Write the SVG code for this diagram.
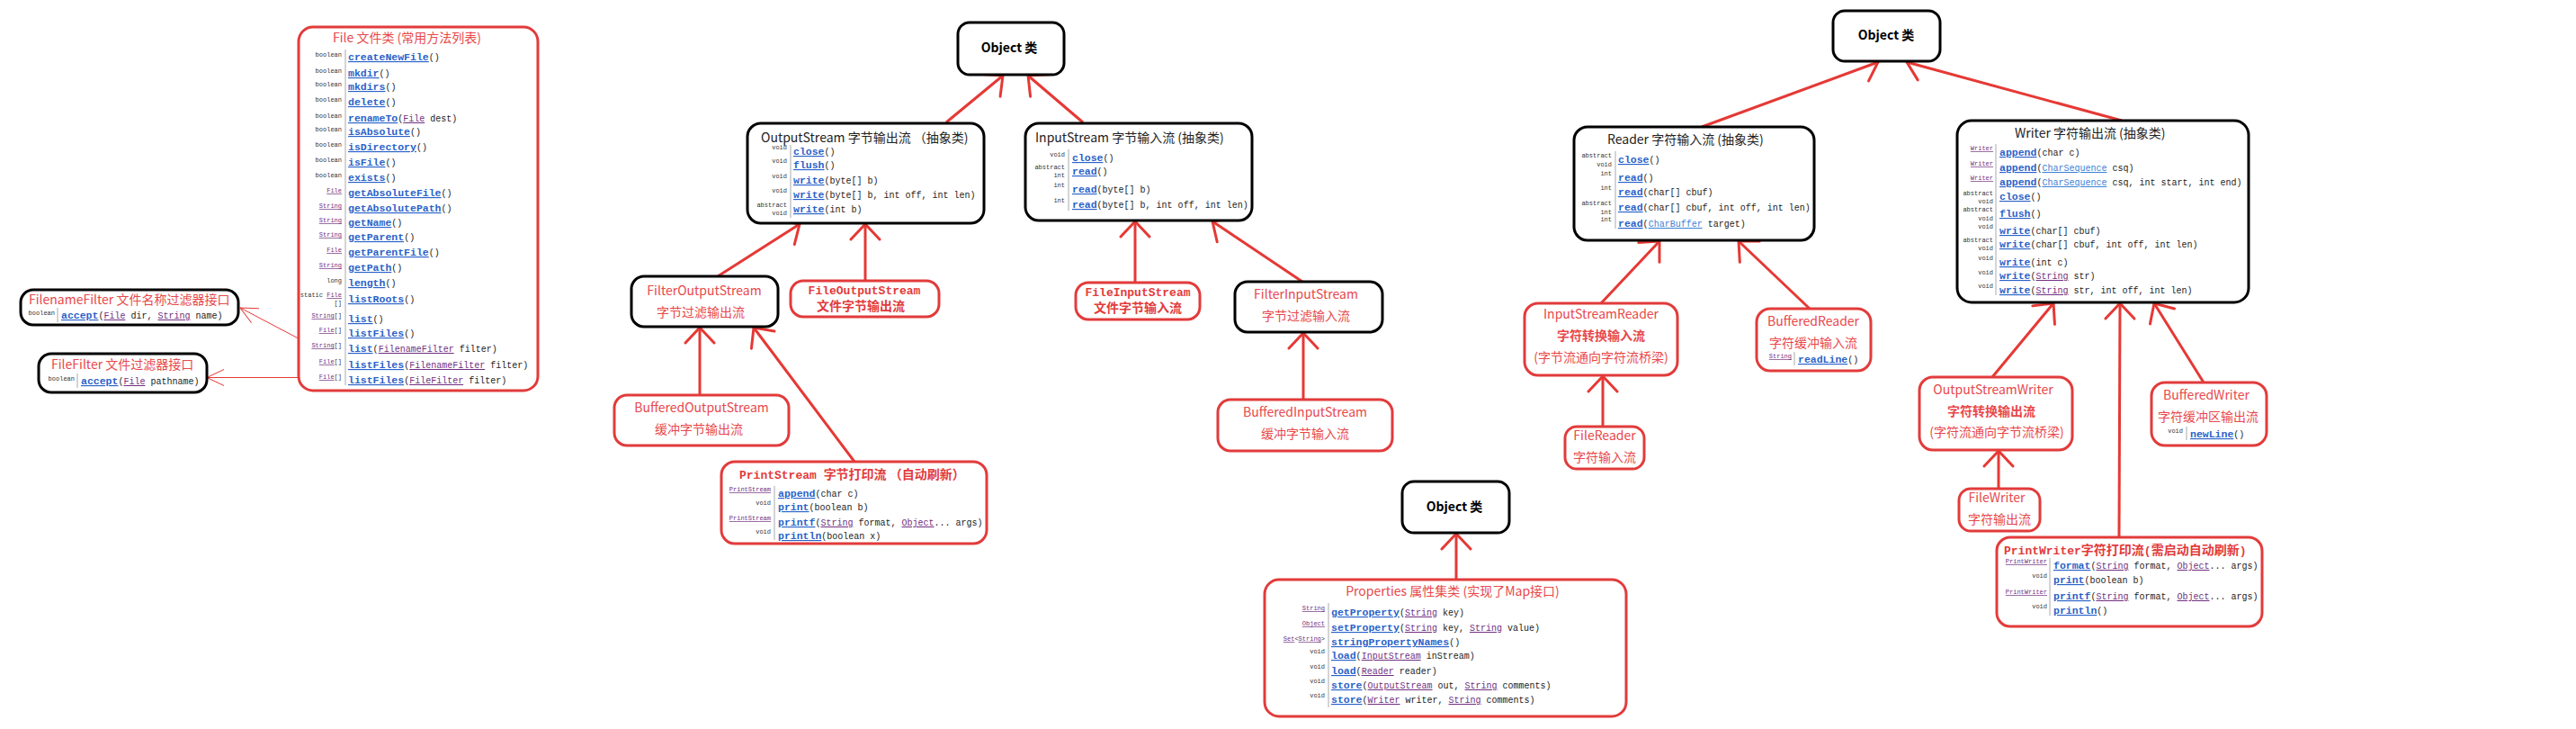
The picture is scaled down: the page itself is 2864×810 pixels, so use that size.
<svg xmlns="http://www.w3.org/2000/svg" width="2864" height="810" viewBox="0 0 2864 810">
<style>
.bk{fill:#fff;stroke:#000;stroke-width:3}
.rd{fill:#fff;stroke:#e23b3b;stroke-width:3}
.ob{font-family:"Noto Sans CJK SC","Noto Sans",sans-serif;font-size:14px;font-weight:bold;fill:#000;text-anchor:middle}
.ti{font-family:"Noto Sans CJK SC","Noto Sans",sans-serif;font-size:14px;fill:#222}
.rt{font-family:"Noto Sans CJK SC","Noto Sans",sans-serif;font-size:14px;fill:#e8484a}
.mc{text-anchor:middle}
.bd{font-weight:bold}
.rm{font-family:"Liberation Mono",monospace;font-size:13px;font-weight:bold;fill:#e23b3b}
.rc{font-family:"Noto Sans CJK SC",sans-serif;font-size:14px;font-weight:bold;fill:#e23b3b}
.rw{font-family:"Liberation Mono",monospace}
.m{font-size:11.5px;font-weight:bold;fill:#2a62c9;text-decoration:underline}
.p{font-size:10px;fill:#222}
.ty{font-size:10px;fill:#70307f;text-decoration:underline}
.lb{font-size:10px;fill:#3b82d6;text-decoration:underline}
.rv{font-family:"Liberation Mono",monospace;font-size:7px;fill:#333;text-anchor:end}
.rl{fill:#70307f;text-decoration:underline}
.sep{stroke:#aaa;stroke-width:1}
.ln{stroke:#e53935;stroke-width:3;fill:none;marker-end:url(#ah)}
.tl{stroke:#e53935;stroke-width:1;fill:none;marker-end:url(#at)}
</style>
<defs>
<marker id="ah" markerUnits="userSpaceOnUse" markerWidth="24" markerHeight="36" viewBox="-22 -18 24 36" refX="0" refY="0" orient="auto"><path d="M-17,-16 L0,0 L-17,16" fill="none" stroke="#e53935" stroke-width="3" stroke-linecap="round"/></marker>
<marker id="at" markerUnits="userSpaceOnUse" markerWidth="24" markerHeight="24" viewBox="-22 -12 24 24" refX="0" refY="0" orient="auto"><path d="M-19,-9 L0,0 L-19,9" fill="none" stroke="#e53935" stroke-width="1"/></marker>
</defs>
<rect width="2864" height="810" fill="#fff"/>

<g id="connectors">
<line class="ln" x1="1052" y1="136" x2="1115" y2="84"/>
<line class="ln" x1="1204" y1="136" x2="1143" y2="84"/>
<line class="ln" x1="798" y1="307" x2="889" y2="249"/>
<line class="ln" x1="962" y1="312" x2="962" y2="249"/>
<line class="ln" x1="778" y1="439" x2="778" y2="364"/>
<line class="ln" x1="950" y1="513" x2="838" y2="364"/>
<line class="ln" x1="1262" y1="314" x2="1262" y2="246"/>
<line class="ln" x1="1448" y1="313" x2="1348" y2="246"/>
<line class="ln" x1="1449" y1="444" x2="1449" y2="370"/>
<line class="ln" x1="1619" y1="644" x2="1619" y2="593"/>
<line class="ln" x1="1892" y1="141" x2="2088" y2="69"/>
<line class="ln" x1="2359" y1="134" x2="2120" y2="69"/>
<line class="ln" x1="1780" y1="337" x2="1845" y2="268"/>
<line class="ln" x1="2012" y1="343" x2="1933" y2="268"/>
<line class="ln" x1="1782" y1="474" x2="1782" y2="418"/>
<line class="ln" x1="2215" y1="419" x2="2283" y2="337"/>
<line class="ln" x1="2356" y1="597" x2="2357" y2="337"/>
<line class="ln" x1="2450" y1="425" x2="2395" y2="337"/>
<line class="ln" x1="2222" y1="543" x2="2222" y2="501"/>
<line class="tl" x1="345" y1="383" x2="267" y2="342"/>
<line class="tl" x1="352" y1="419.5" x2="230" y2="419.5"/>
</g>

<g id="file">
<rect class="rd" x="332" y="30" width="266" height="404" rx="16"/>
<text class="rt" x="370" y="47">File 文件类 (常用方法列表)</text>
<line class="sep" x1="384" y1="55" x2="384" y2="428"/>
<text class="rv" x="380" y="63">boolean</text><text class="rw" x="387" y="67"><tspan class="m">createNewFile</tspan><tspan class="p">()</tspan></text>
<text class="rv" x="380" y="81">boolean</text><text class="rw" x="387" y="85"><tspan class="m">mkdir</tspan><tspan class="p">()</tspan></text>
<text class="rv" x="380" y="96">boolean</text><text class="rw" x="387" y="100"><tspan class="m">mkdirs</tspan><tspan class="p">()</tspan></text>
<text class="rv" x="380" y="113">boolean</text><text class="rw" x="387" y="117"><tspan class="m">delete</tspan><tspan class="p">()</tspan></text>
<text class="rv" x="380" y="131">boolean</text><text class="rw" x="387" y="135"><tspan class="m">renameTo</tspan><tspan class="p">(</tspan><tspan class="ty">File</tspan><tspan class="p"> dest)</tspan></text>
<text class="rv" x="380" y="146">boolean</text><text class="rw" x="387" y="150"><tspan class="m">isAbsolute</tspan><tspan class="p">()</tspan></text>
<text class="rv" x="380" y="163">boolean</text><text class="rw" x="387" y="167"><tspan class="m">isDirectory</tspan><tspan class="p">()</tspan></text>
<text class="rv" x="380" y="180">boolean</text><text class="rw" x="387" y="184"><tspan class="m">isFile</tspan><tspan class="p">()</tspan></text>
<text class="rv" x="380" y="197">boolean</text><text class="rw" x="387" y="201"><tspan class="m">exists</tspan><tspan class="p">()</tspan></text>
<text class="rv" x="380" y="214"><tspan class="rl">File</tspan></text><text class="rw" x="387" y="218"><tspan class="m">getAbsoluteFile</tspan><tspan class="p">()</tspan></text>
<text class="rv" x="380" y="231"><tspan class="rl">String</tspan></text><text class="rw" x="387" y="235"><tspan class="m">getAbsolutePath</tspan><tspan class="p">()</tspan></text>
<text class="rv" x="380" y="247"><tspan class="rl">String</tspan></text><text class="rw" x="387" y="251"><tspan class="m">getName</tspan><tspan class="p">()</tspan></text>
<text class="rv" x="380" y="263"><tspan class="rl">String</tspan></text><text class="rw" x="387" y="267"><tspan class="m">getParent</tspan><tspan class="p">()</tspan></text>
<text class="rv" x="380" y="280"><tspan class="rl">File</tspan></text><text class="rw" x="387" y="284"><tspan class="m">getParentFile</tspan><tspan class="p">()</tspan></text>
<text class="rv" x="380" y="297"><tspan class="rl">String</tspan></text><text class="rw" x="387" y="301"><tspan class="m">getPath</tspan><tspan class="p">()</tspan></text>
<text class="rv" x="380" y="314">long</text><text class="rw" x="387" y="318"><tspan class="m">length</tspan><tspan class="p">()</tspan></text>
<text class="rv" x="380" y="330">static <tspan class="rl">File</tspan></text><text class="rv" x="380" y="339">[]</text><text class="rw" x="387" y="336"><tspan class="m">listRoots</tspan><tspan class="p">()</tspan></text>
<text class="rv" x="380" y="353"><tspan class="rl">String</tspan>[]</text><text class="rw" x="387" y="358"><tspan class="m">list</tspan><tspan class="p">()</tspan></text>
<text class="rv" x="380" y="369"><tspan class="rl">File</tspan>[]</text><text class="rw" x="387" y="374"><tspan class="m">listFiles</tspan><tspan class="p">()</tspan></text>
<text class="rv" x="380" y="386"><tspan class="rl">String</tspan>[]</text><text class="rw" x="387" y="391"><tspan class="m">list</tspan><tspan class="p">(</tspan><tspan class="ty">FilenameFilter</tspan><tspan class="p"> filter)</tspan></text>
<text class="rv" x="380" y="404"><tspan class="rl">File</tspan>[]</text><text class="rw" x="387" y="409"><tspan class="m">listFiles</tspan><tspan class="p">(</tspan><tspan class="ty">FilenameFilter</tspan><tspan class="p"> filter)</tspan></text>
<text class="rv" x="380" y="421"><tspan class="rl">File</tspan>[]</text><text class="rw" x="387" y="426"><tspan class="m">listFiles</tspan><tspan class="p">(</tspan><tspan class="ty">FileFilter</tspan><tspan class="p"> filter)</tspan></text>
</g>

<g id="filenamefilter">
<rect class="bk" x="23" y="322" width="242" height="39" rx="14"/>
<text class="rt" x="32" y="338">FilenameFilter 文件名称过滤器接口</text>
<line class="sep" x1="64" y1="342" x2="64" y2="358"/>
<text class="rv" x="61" y="350">boolean</text><text class="rw" x="68" y="354"><tspan class="m">accept</tspan><tspan class="p">(</tspan><tspan class="ty">File</tspan><tspan class="p"> dir, </tspan><tspan class="ty">String</tspan><tspan class="p"> name)</tspan></text>
</g>

<g id="filefilter">
<rect class="bk" x="43" y="393" width="187" height="43" rx="14"/>
<text class="rt" x="57" y="410">FileFilter 文件过滤器接口</text>
<line class="sep" x1="86" y1="415" x2="86" y2="431"/>
<text class="rv" x="83" y="423">boolean</text><text class="rw" x="90" y="427"><tspan class="m">accept</tspan><tspan class="p">(</tspan><tspan class="ty">File</tspan><tspan class="p"> pathname)</tspan></text>
</g>

<g id="object1">
<rect class="bk" x="1065" y="25" width="118" height="58" rx="13"/>
<text class="ob" x="1122" y="58">Object 类</text>
</g>

<g id="outputstream">
<rect class="bk" x="831" y="137" width="263" height="111" rx="15"/>
<text class="ti" x="846" y="158">OutputStream 字节输出流 （抽象类)</text>
<line class="sep" x1="879" y1="161" x2="879" y2="242"/>
<text class="rv" x="875" y="166">void</text><text class="rw" x="882" y="172"><tspan class="m">close</tspan><tspan class="p">()</tspan></text>
<text class="rv" x="875" y="181">void</text><text class="rw" x="882" y="187"><tspan class="m">flush</tspan><tspan class="p">()</tspan></text>
<text class="rv" x="875" y="198">void</text><text class="rw" x="882" y="204"><tspan class="m">write</tspan><tspan class="p">(byte[] b)</tspan></text>
<text class="rv" x="875" y="214">void</text><text class="rw" x="882" y="220"><tspan class="m">write</tspan><tspan class="p">(byte[] b, int off, int len)</tspan></text>
<text class="rv" x="875" y="230">abstract</text><text class="rv" x="875" y="239">void</text><text class="rw" x="882" y="236"><tspan class="m">write</tspan><tspan class="p">(int b)</tspan></text>
</g>

<g id="inputstream">
<rect class="bk" x="1140" y="137" width="252" height="108" rx="15"/>
<text class="ti" x="1151" y="158">InputStream 字节输入流 (抽象类)</text>
<line class="sep" x1="1188" y1="166" x2="1188" y2="234"/>
<text class="rv" x="1184" y="174">void</text><text class="rw" x="1192" y="179"><tspan class="m">close</tspan><tspan class="p">()</tspan></text>
<text class="rv" x="1184" y="188">abstract</text><text class="rv" x="1184" y="197">int</text><text class="rw" x="1192" y="194"><tspan class="m">read</tspan><tspan class="p">()</tspan></text>
<text class="rv" x="1184" y="208">int</text><text class="rw" x="1192" y="214"><tspan class="m">read</tspan><tspan class="p">(byte[] b)</tspan></text>
<text class="rv" x="1184" y="225">int</text><text class="rw" x="1192" y="231"><tspan class="m">read</tspan><tspan class="p">(byte[] b, int off, int len)</tspan></text>
</g>

<g id="filteroutputstream">
<rect class="bk" x="702" y="307" width="163" height="56" rx="14"/>
<text class="rt mc" x="783" y="328">FilterOutputStream</text>
<text class="rt mc" x="779" y="352">字节过滤输出流</text>
</g>

<g id="fileoutputstream">
<rect class="rd" x="879" y="312" width="165" height="40" rx="14"/>
<text class="rm mc" x="961" y="327">FileOutputStream</text>
<text class="rc mc" x="957" y="345">文件字节输出流</text>
</g>

<g id="bufferedoutputstream">
<rect class="rd" x="683" y="439" width="194" height="56" rx="14"/>
<text class="rt mc" x="780" y="458">BufferedOutputStream</text>
<text class="rt mc" x="777" y="482">缓冲字节输出流</text>
</g>

<g id="printstream">
<rect class="rd" x="802" y="513" width="295" height="91" rx="15"/>
<text x="822" y="532"><tspan class="rm">PrintStream </tspan><tspan class="rc">字节打印流 （自动刷新）</tspan></text>
<line class="sep" x1="861" y1="540" x2="861" y2="600"/>
<text class="rv" x="857" y="546"><tspan class="rl">PrintStream</tspan></text><text class="rw" x="865" y="552"><tspan class="m">append</tspan><tspan class="p">(char c)</tspan></text>
<text class="rv" x="857" y="561">void</text><text class="rw" x="865" y="567"><tspan class="m">print</tspan><tspan class="p">(boolean b)</tspan></text>
<text class="rv" x="857" y="578"><tspan class="rl">PrintStream</tspan></text><text class="rw" x="865" y="584"><tspan class="m">printf</tspan><tspan class="p">(</tspan><tspan class="ty">String</tspan><tspan class="p"> format, </tspan><tspan class="ty">Object</tspan><tspan class="p">... args)</tspan></text>
<text class="rv" x="857" y="593">void</text><text class="rw" x="865" y="599"><tspan class="m">println</tspan><tspan class="p">(boolean x)</tspan></text>
</g>

<g id="fileinputstream">
<rect class="rd" x="1196" y="314" width="138" height="41" rx="14"/>
<text class="rm mc" x="1265" y="329">FileInputStream</text>
<text class="rc mc" x="1265" y="347">文件字节输入流</text>
</g>

<g id="filterinputstream">
<rect class="bk" x="1373" y="313" width="164" height="56" rx="14"/>
<text class="rt mc" x="1452" y="332">FilterInputStream</text>
<text class="rt mc" x="1452" y="356">字节过滤输入流</text>
</g>

<g id="bufferedinputstream">
<rect class="rd" x="1354" y="444" width="194" height="57" rx="14"/>
<text class="rt mc" x="1451" y="463">BufferedInputStream</text>
<text class="rt mc" x="1451" y="487">缓冲字节输入流</text>
</g>

<g id="object3">
<rect class="bk" x="1559" y="535" width="119" height="57" rx="13"/>
<text class="ob" x="1617" y="568">Object 类</text>
</g>

<g id="properties">
<rect class="rd" x="1406" y="644" width="402" height="152" rx="16"/>
<text class="rt mc" x="1615" y="662">Properties 属性集类 (实现了Map接口)</text>
<line class="sep" x1="1477" y1="670" x2="1477" y2="786"/>
<text class="rv" x="1473" y="678"><tspan class="rl">String</tspan></text><text class="rw" x="1480" y="684"><tspan class="m">getProperty</tspan><tspan class="p">(</tspan><tspan class="ty">String</tspan><tspan class="p"> key)</tspan></text>
<text class="rv" x="1473" y="695"><tspan class="rl">Object</tspan></text><text class="rw" x="1480" y="701"><tspan class="m">setProperty</tspan><tspan class="p">(</tspan><tspan class="ty">String</tspan><tspan class="p"> key, </tspan><tspan class="ty">String</tspan><tspan class="p"> value)</tspan></text>
<text class="rv" x="1473" y="712"><tspan class="rl">Set</tspan>&lt;<tspan class="rl">String</tspan>&gt;</text><text class="rw" x="1480" y="717"><tspan class="m">stringPropertyNames</tspan><tspan class="p">()</tspan></text>
<text class="rv" x="1473" y="726">void</text><text class="rw" x="1480" y="732"><tspan class="m">load</tspan><tspan class="p">(</tspan><tspan class="ty">InputStream</tspan><tspan class="p"> inStream)</tspan></text>
<text class="rv" x="1473" y="743">void</text><text class="rw" x="1480" y="749"><tspan class="m">load</tspan><tspan class="p">(</tspan><tspan class="ty">Reader</tspan><tspan class="p"> reader)</tspan></text>
<text class="rv" x="1473" y="759">void</text><text class="rw" x="1480" y="765"><tspan class="m">store</tspan><tspan class="p">(</tspan><tspan class="ty">OutputStream</tspan><tspan class="p"> out, </tspan><tspan class="ty">String</tspan><tspan class="p"> comments)</tspan></text>
<text class="rv" x="1473" y="775">void</text><text class="rw" x="1480" y="781"><tspan class="m">store</tspan><tspan class="p">(</tspan><tspan class="ty">Writer</tspan><tspan class="p"> writer, </tspan><tspan class="ty">String</tspan><tspan class="p"> comments)</tspan></text>
</g>

<g id="object2">
<rect class="bk" x="2038" y="12" width="119" height="56" rx="13"/>
<text class="ob" x="2097" y="44">Object 类</text>
</g>

<g id="reader">
<rect class="bk" x="1750" y="141" width="267" height="126" rx="15"/>
<text class="ti" x="1787" y="160">Reader 字符输入流 (抽象类)</text>
<line class="sep" x1="1796" y1="168" x2="1796" y2="254"/>
<text class="rv" x="1792" y="175">abstract</text><text class="rv" x="1792" y="185">void</text><text class="rw" x="1799" y="181"><tspan class="m">close</tspan><tspan class="p">()</tspan></text>
<text class="rv" x="1792" y="195">int</text><text class="rw" x="1799" y="201"><tspan class="m">read</tspan><tspan class="p">()</tspan></text>
<text class="rv" x="1792" y="211">int</text><text class="rw" x="1799" y="217"><tspan class="m">read</tspan><tspan class="p">(char[] cbuf)</tspan></text>
<text class="rv" x="1792" y="228">abstract</text><text class="rv" x="1792" y="238">int</text><text class="rw" x="1799" y="234"><tspan class="m">read</tspan><tspan class="p">(char[] cbuf, int off, int len)</tspan></text>
<text class="rv" x="1792" y="246">int</text><text class="rw" x="1799" y="252"><tspan class="m">read</tspan><tspan class="p">(</tspan><tspan class="lb">CharBuffer</tspan><tspan class="p"> target)</tspan></text>
</g>

<g id="writer">
<rect class="bk" x="2176" y="134" width="324" height="202" rx="16"/>
<text class="ti" x="2240" y="153">Writer 字符输出流 (抽象类)</text>
<line class="sep" x1="2219" y1="160" x2="2219" y2="328"/>
<text class="rv" x="2216" y="167"><tspan class="rl">Writer</tspan></text><text class="rw" x="2223" y="173"><tspan class="m">append</tspan><tspan class="p">(char c)</tspan></text>
<text class="rv" x="2216" y="184"><tspan class="rl">Writer</tspan></text><text class="rw" x="2223" y="190"><tspan class="m">append</tspan><tspan class="p">(</tspan><tspan class="lb">CharSequence</tspan><tspan class="p"> csq)</tspan></text>
<text class="rv" x="2216" y="200"><tspan class="rl">Writer</tspan></text><text class="rw" x="2223" y="206"><tspan class="m">append</tspan><tspan class="p">(</tspan><tspan class="lb">CharSequence</tspan><tspan class="p"> csq, int start, int end)</tspan></text>
<text class="rv" x="2216" y="217">abstract</text><text class="rv" x="2216" y="226">void</text><text class="rw" x="2223" y="222"><tspan class="m">close</tspan><tspan class="p">()</tspan></text>
<text class="rv" x="2216" y="235">abstract</text><text class="rv" x="2216" y="245">void</text><text class="rw" x="2223" y="241"><tspan class="m">flush</tspan><tspan class="p">()</tspan></text>
<text class="rv" x="2216" y="254">void</text><text class="rw" x="2223" y="260"><tspan class="m">write</tspan><tspan class="p">(char[] cbuf)</tspan></text>
<text class="rv" x="2216" y="269">abstract</text><text class="rv" x="2216" y="278">void</text><text class="rw" x="2223" y="275"><tspan class="m">write</tspan><tspan class="p">(char[] cbuf, int off, int len)</tspan></text>
<text class="rv" x="2216" y="289">void</text><text class="rw" x="2223" y="295"><tspan class="m">write</tspan><tspan class="p">(int c)</tspan></text>
<text class="rv" x="2216" y="305">void</text><text class="rw" x="2223" y="310"><tspan class="m">write</tspan><tspan class="p">(</tspan><tspan class="ty">String</tspan><tspan class="p"> str)</tspan></text>
<text class="rv" x="2216" y="320">void</text><text class="rw" x="2223" y="326"><tspan class="m">write</tspan><tspan class="p">(</tspan><tspan class="ty">String</tspan><tspan class="p"> str, int off, int len)</tspan></text>
</g>

<g id="inputstreamreader">
<rect class="rd" x="1695" y="337" width="170" height="80" rx="15"/>
<text class="rt mc" x="1780" y="354">InputStreamReader</text>
<text class="rt mc bd" x="1780" y="378">字符转换输入流</text>
<text class="rt mc" x="1780" y="402">(字节流通向字符流桥梁)</text>
</g>

<g id="filereader">
<rect class="rd" x="1740" y="474" width="88" height="47" rx="13"/>
<text class="rt mc" x="1784" y="489">FileReader</text>
<text class="rt mc" x="1784" y="513">字符输入流</text>
</g>

<g id="bufferedreader">
<rect class="rd" x="1953" y="343" width="127" height="69" rx="15"/>
<text class="rt mc" x="2016" y="362">BufferedReader</text>
<text class="rt mc" x="2016" y="386">字符缓冲输入流</text>
<line class="sep" x1="1995" y1="391" x2="1995" y2="406"/>
<text class="rv" x="1992" y="398"><tspan class="rl">String</tspan></text><text class="rw" x="1999" y="403"><tspan class="m">readLine</tspan><tspan class="p">()</tspan></text>
</g>

<g id="outputstreamwriter">
<rect class="rd" x="2134" y="419" width="170" height="81" rx="15"/>
<text class="rt mc" x="2216" y="438">OutputStreamWriter</text>
<text class="rt mc bd" x="2214" y="462">字符转换输出流</text>
<text class="rt mc" x="2220" y="485">(字符流通向字节流桥梁)</text>
</g>

<g id="filewriter">
<rect class="rd" x="2178" y="543" width="90" height="47" rx="13"/>
<text class="rt mc" x="2220" y="558">FileWriter</text>
<text class="rt mc" x="2223" y="582">字符输出流</text>
</g>

<g id="bufferedwriter">
<rect class="rd" x="2392" y="425" width="128" height="70" rx="15"/>
<text class="rt mc" x="2453" y="444">BufferedWriter</text>
<text class="rt mc" x="2455" y="468">字符缓冲区输出流</text>
<line class="sep" x1="2431" y1="474" x2="2431" y2="489"/>
<text class="rv" x="2427" y="481">void</text><text class="rw" x="2435" y="486"><tspan class="m">newLine</tspan><tspan class="p">()</tspan></text>
</g>

<g id="printwriter">
<rect class="rd" x="2220" y="597" width="295" height="99" rx="15"/>
<text x="2228" y="616"><tspan class="rm">PrintWriter</tspan><tspan class="rc">字符打印流</tspan><tspan class="rm">(</tspan><tspan class="rc">需启动自动刷新</tspan><tspan class="rm">)</tspan></text>
<line class="sep" x1="2279" y1="620" x2="2279" y2="684"/>
<text class="rv" x="2276" y="626"><tspan class="rl">PrintWriter</tspan></text><text class="rw" x="2283" y="632"><tspan class="m">format</tspan><tspan class="p">(</tspan><tspan class="ty">String</tspan><tspan class="p"> format, </tspan><tspan class="ty">Object</tspan><tspan class="p">... args)</tspan></text>
<text class="rv" x="2276" y="642">void</text><text class="rw" x="2283" y="648"><tspan class="m">print</tspan><tspan class="p">(boolean b)</tspan></text>
<text class="rv" x="2276" y="660"><tspan class="rl">PrintWriter</tspan></text><text class="rw" x="2283" y="666"><tspan class="m">printf</tspan><tspan class="p">(</tspan><tspan class="ty">String</tspan><tspan class="p"> format, </tspan><tspan class="ty">Object</tspan><tspan class="p">... args)</tspan></text>
<text class="rv" x="2276" y="676">void</text><text class="rw" x="2283" y="682"><tspan class="m">println</tspan><tspan class="p">()</tspan></text>
</g>
</svg>
